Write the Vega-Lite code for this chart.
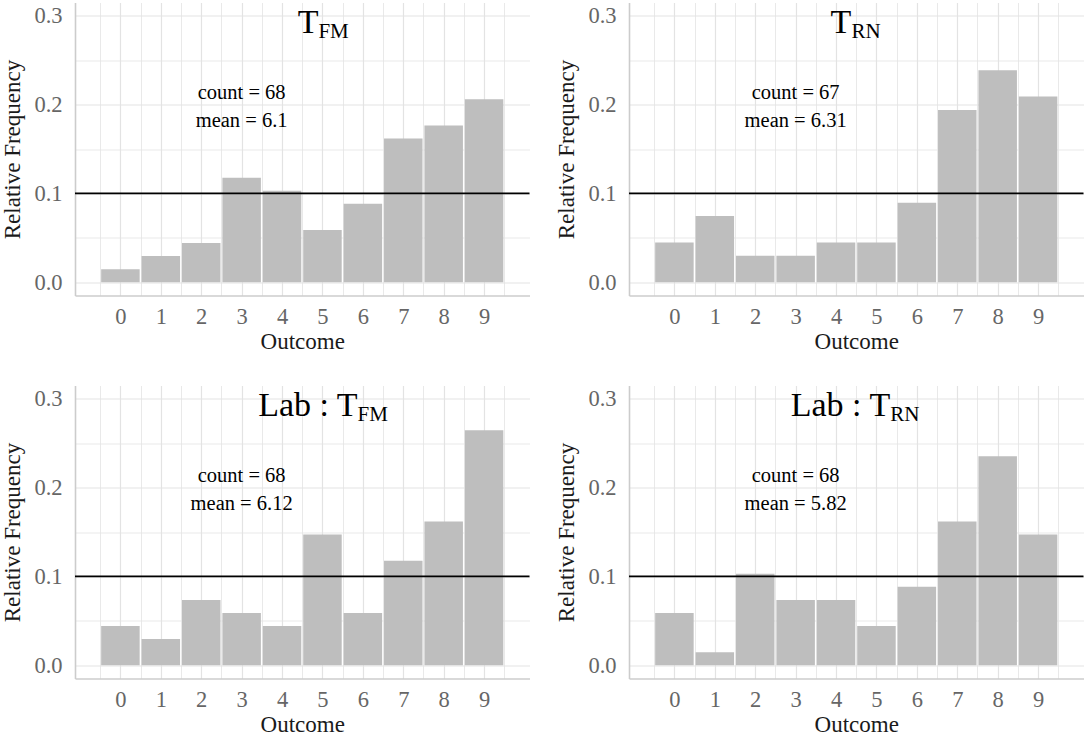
{
  "$schema": "https://vega.github.io/schema/vega-lite/v6.json",
  "background": "white",
  "padding": {"left": 1, "top": 2.5, "right": 2.5, "bottom": 0},
  "columns": 2,
  "spacing": {"row": 90, "column": 99},
  "bounds": "flush",
  "config": {
    "font": "Liberation Serif, Times New Roman, serif",
    "view": {"stroke": null},
    "text": {"font": "Liberation Serif, Times New Roman, serif"},
    "axis": {
      "labelFont": "Liberation Serif, Times New Roman, serif",
      "titleFont": "Liberation Serif, Times New Roman, serif",
      "labelFontSize": 22.5,
      "titleFontSize": 23,
      "labelColor": "#666666",
      "titleColor": "#1a1a1a",
      "titleFontWeight": "normal",
      "ticks": false,
      "tickSize": 0,
      "domainColor": "#cccccc",
      "domainWidth": 1.6,
      "gridColor": "#e3e3e3",
      "gridWidth": 1.2,
      "labelFlush": false,
      "labelOverlap": false
    },
    "axisX": {"labelPadding": 10, "titlePadding": 2, "labelAngle": 0},
    "axisY": {"labelPadding": 13, "titlePadding": 9}
  },
  "concat": [
    {
      "width": 454.5,
      "height": 293,
      "resolve": {"axis": {"x": "independent"}},
      "layer": [
        {
          "data": {"values": [{}]},
          "mark": {"type": "rule", "opacity": 0},
          "encoding": {"x": {"datum": 0, "type": "quantitative", "axis": {"orient": "bottom", "values": [-0.5, 0.5, 1.5, 2.5, 3.5, 4.5, 5.5, 6.5, 7.5, 8.5, 9.5], "labels": false, "domain": false, "title": null, "grid": true, "gridWidth": 0.8}}}
        },
        {
          "data": {"values": [
            {"outcome": 0, "rel": 0.0147},
            {"outcome": 1, "rel": 0.0294},
            {"outcome": 2, "rel": 0.0441},
            {"outcome": 3, "rel": 0.1176},
            {"outcome": 4, "rel": 0.1029},
            {"outcome": 5, "rel": 0.0588},
            {"outcome": 6, "rel": 0.0882},
            {"outcome": 7, "rel": 0.1618},
            {"outcome": 8, "rel": 0.1765},
            {"outcome": 9, "rel": 0.2059}
          ]},
          "mark": {"type": "bar", "width": 38.5, "color": "#bebebe"},
          "encoding": {
            "x": {
              "field": "outcome", "type": "quantitative", "title": "Outcome",
              "scale": {"domain": [-1, 10], "nice": false, "zero": false},
              "axis": {"orient": "bottom", "values": [0, 1, 2, 3, 4, 5, 6, 7, 8, 9], "format": "d", "grid": true}
            },
            "y": {
              "field": "rel", "type": "quantitative", "title": "Relative Frequency",
              "scale": {"domain": [-0.015, 0.315], "nice": false, "zero": false},
              "axis": {
                "values": [0, 0.05, 0.1, 0.15, 0.2, 0.25, 0.3],
                "format": ".1f",
                "labelExpr": "abs(datum.value * 10 - round(datum.value * 10)) < 0.001 ? datum.label : ''",
                "gridWidth": {"condition": {"test": "abs(datum.value * 10 - round(datum.value * 10)) > 0.001", "value": 0.8}, "value": 1.2}
              }
            }
          }
        },
        {
          "data": {"values": [{}]},
          "mark": {"type": "rule", "color": "black", "strokeWidth": 1.8},
          "encoding": {"y": {"datum": 0.1}}
        },
        {
          "data": {"values": [{"label": "count = 68 \n mean = 6.1"}]},
          "mark": {"type": "text", "fontSize": 20.5, "lineBreak": "\n", "lineHeight": 28, "align": "center", "baseline": "middle", "color": "black"},
          "encoding": {"x": {"datum": 3, "axis": null}, "y": {"datum": 0.2135}, "text": {"field": "label"}}
        },
        {
          "data": {"values": [{"main": "T", "sub": "FM"}]},
          "mark": {"type": "text", "fontSize": 34, "align": "right", "baseline": "alphabetic", "color": "black"},
          "encoding": {"x": {"datum": 4.9, "axis": null}, "y": {"datum": 0.281}, "text": {"field": "main"}}
        },
        {
          "data": {"values": [{"main": "T", "sub": "FM"}]},
          "mark": {"type": "text", "fontSize": 21, "align": "left", "baseline": "alphabetic", "dy": 5, "color": "black"},
          "encoding": {"x": {"datum": 4.9, "axis": null}, "y": {"datum": 0.281}, "text": {"field": "sub"}}
        }
      ]
    },
    {
      "width": 454.5,
      "height": 293,
      "resolve": {"axis": {"x": "independent"}},
      "layer": [
        {
          "data": {"values": [{}]},
          "mark": {"type": "rule", "opacity": 0},
          "encoding": {"x": {"datum": 0, "type": "quantitative", "axis": {"orient": "bottom", "values": [-0.5, 0.5, 1.5, 2.5, 3.5, 4.5, 5.5, 6.5, 7.5, 8.5, 9.5], "labels": false, "domain": false, "title": null, "grid": true, "gridWidth": 0.8}}}
        },
        {
          "data": {"values": [
            {"outcome": 0, "rel": 0.0448},
            {"outcome": 1, "rel": 0.0746},
            {"outcome": 2, "rel": 0.0299},
            {"outcome": 3, "rel": 0.0299},
            {"outcome": 4, "rel": 0.0448},
            {"outcome": 5, "rel": 0.0448},
            {"outcome": 6, "rel": 0.0896},
            {"outcome": 7, "rel": 0.1940},
            {"outcome": 8, "rel": 0.2388},
            {"outcome": 9, "rel": 0.2090}
          ]},
          "mark": {"type": "bar", "width": 38.5, "color": "#bebebe"},
          "encoding": {
            "x": {
              "field": "outcome", "type": "quantitative", "title": "Outcome",
              "scale": {"domain": [-1, 10], "nice": false, "zero": false},
              "axis": {"orient": "bottom", "values": [0, 1, 2, 3, 4, 5, 6, 7, 8, 9], "format": "d", "grid": true}
            },
            "y": {
              "field": "rel", "type": "quantitative", "title": "Relative Frequency",
              "scale": {"domain": [-0.015, 0.315], "nice": false, "zero": false},
              "axis": {
                "values": [0, 0.05, 0.1, 0.15, 0.2, 0.25, 0.3],
                "format": ".1f",
                "labelExpr": "abs(datum.value * 10 - round(datum.value * 10)) < 0.001 ? datum.label : ''",
                "gridWidth": {"condition": {"test": "abs(datum.value * 10 - round(datum.value * 10)) > 0.001", "value": 0.8}, "value": 1.2}
              }
            }
          }
        },
        {
          "data": {"values": [{}]},
          "mark": {"type": "rule", "color": "black", "strokeWidth": 1.8},
          "encoding": {"y": {"datum": 0.1}}
        },
        {
          "data": {"values": [{"label": "count = 67 \n mean = 6.31"}]},
          "mark": {"type": "text", "fontSize": 20.5, "lineBreak": "\n", "lineHeight": 28, "align": "center", "baseline": "middle", "color": "black"},
          "encoding": {"x": {"datum": 3, "axis": null}, "y": {"datum": 0.2135}, "text": {"field": "label"}}
        },
        {
          "data": {"values": [{"main": "T", "sub": "RN"}]},
          "mark": {"type": "text", "fontSize": 34, "align": "right", "baseline": "alphabetic", "color": "black"},
          "encoding": {"x": {"datum": 4.38, "axis": null}, "y": {"datum": 0.281}, "text": {"field": "main"}}
        },
        {
          "data": {"values": [{"main": "T", "sub": "RN"}]},
          "mark": {"type": "text", "fontSize": 21, "align": "left", "baseline": "alphabetic", "dy": 5, "color": "black"},
          "encoding": {"x": {"datum": 4.38, "axis": null}, "y": {"datum": 0.281}, "text": {"field": "sub"}}
        }
      ]
    },
    {
      "width": 454.5,
      "height": 293,
      "resolve": {"axis": {"x": "independent"}},
      "layer": [
        {
          "data": {"values": [{}]},
          "mark": {"type": "rule", "opacity": 0},
          "encoding": {"x": {"datum": 0, "type": "quantitative", "axis": {"orient": "bottom", "values": [-0.5, 0.5, 1.5, 2.5, 3.5, 4.5, 5.5, 6.5, 7.5, 8.5, 9.5], "labels": false, "domain": false, "title": null, "grid": true, "gridWidth": 0.8}}}
        },
        {
          "data": {"values": [
            {"outcome": 0, "rel": 0.0441},
            {"outcome": 1, "rel": 0.0294},
            {"outcome": 2, "rel": 0.0735},
            {"outcome": 3, "rel": 0.0588},
            {"outcome": 4, "rel": 0.0441},
            {"outcome": 5, "rel": 0.1471},
            {"outcome": 6, "rel": 0.0588},
            {"outcome": 7, "rel": 0.1176},
            {"outcome": 8, "rel": 0.1618},
            {"outcome": 9, "rel": 0.2647}
          ]},
          "mark": {"type": "bar", "width": 38.5, "color": "#bebebe"},
          "encoding": {
            "x": {
              "field": "outcome", "type": "quantitative", "title": "Outcome",
              "scale": {"domain": [-1, 10], "nice": false, "zero": false},
              "axis": {"orient": "bottom", "values": [0, 1, 2, 3, 4, 5, 6, 7, 8, 9], "format": "d", "grid": true}
            },
            "y": {
              "field": "rel", "type": "quantitative", "title": "Relative Frequency",
              "scale": {"domain": [-0.015, 0.315], "nice": false, "zero": false},
              "axis": {
                "values": [0, 0.05, 0.1, 0.15, 0.2, 0.25, 0.3],
                "format": ".1f",
                "labelExpr": "abs(datum.value * 10 - round(datum.value * 10)) < 0.001 ? datum.label : ''",
                "gridWidth": {"condition": {"test": "abs(datum.value * 10 - round(datum.value * 10)) > 0.001", "value": 0.8}, "value": 1.2}
              }
            }
          }
        },
        {
          "data": {"values": [{}]},
          "mark": {"type": "rule", "color": "black", "strokeWidth": 1.8},
          "encoding": {"y": {"datum": 0.1}}
        },
        {
          "data": {"values": [{"label": "count = 68 \n mean = 6.12"}]},
          "mark": {"type": "text", "fontSize": 20.5, "lineBreak": "\n", "lineHeight": 28, "align": "center", "baseline": "middle", "color": "black"},
          "encoding": {"x": {"datum": 3, "axis": null}, "y": {"datum": 0.2135}, "text": {"field": "label"}}
        },
        {
          "data": {"values": [{"main": "Lab : T", "sub": "FM"}]},
          "mark": {"type": "text", "fontSize": 34, "align": "right", "baseline": "alphabetic", "color": "black"},
          "encoding": {"x": {"datum": 5.87, "axis": null}, "y": {"datum": 0.281}, "text": {"field": "main"}}
        },
        {
          "data": {"values": [{"main": "Lab : T", "sub": "FM"}]},
          "mark": {"type": "text", "fontSize": 21, "align": "left", "baseline": "alphabetic", "dy": 5, "color": "black"},
          "encoding": {"x": {"datum": 5.87, "axis": null}, "y": {"datum": 0.281}, "text": {"field": "sub"}}
        }
      ]
    },
    {
      "width": 454.5,
      "height": 293,
      "resolve": {"axis": {"x": "independent"}},
      "layer": [
        {
          "data": {"values": [{}]},
          "mark": {"type": "rule", "opacity": 0},
          "encoding": {"x": {"datum": 0, "type": "quantitative", "axis": {"orient": "bottom", "values": [-0.5, 0.5, 1.5, 2.5, 3.5, 4.5, 5.5, 6.5, 7.5, 8.5, 9.5], "labels": false, "domain": false, "title": null, "grid": true, "gridWidth": 0.8}}}
        },
        {
          "data": {"values": [
            {"outcome": 0, "rel": 0.0588},
            {"outcome": 1, "rel": 0.0147},
            {"outcome": 2, "rel": 0.1029},
            {"outcome": 3, "rel": 0.0735},
            {"outcome": 4, "rel": 0.0735},
            {"outcome": 5, "rel": 0.0441},
            {"outcome": 6, "rel": 0.0882},
            {"outcome": 7, "rel": 0.1618},
            {"outcome": 8, "rel": 0.2353},
            {"outcome": 9, "rel": 0.1471}
          ]},
          "mark": {"type": "bar", "width": 38.5, "color": "#bebebe"},
          "encoding": {
            "x": {
              "field": "outcome", "type": "quantitative", "title": "Outcome",
              "scale": {"domain": [-1, 10], "nice": false, "zero": false},
              "axis": {"orient": "bottom", "values": [0, 1, 2, 3, 4, 5, 6, 7, 8, 9], "format": "d", "grid": true}
            },
            "y": {
              "field": "rel", "type": "quantitative", "title": "Relative Frequency",
              "scale": {"domain": [-0.015, 0.315], "nice": false, "zero": false},
              "axis": {
                "values": [0, 0.05, 0.1, 0.15, 0.2, 0.25, 0.3],
                "format": ".1f",
                "labelExpr": "abs(datum.value * 10 - round(datum.value * 10)) < 0.001 ? datum.label : ''",
                "gridWidth": {"condition": {"test": "abs(datum.value * 10 - round(datum.value * 10)) > 0.001", "value": 0.8}, "value": 1.2}
              }
            }
          }
        },
        {
          "data": {"values": [{}]},
          "mark": {"type": "rule", "color": "black", "strokeWidth": 1.8},
          "encoding": {"y": {"datum": 0.1}}
        },
        {
          "data": {"values": [{"label": "count = 68 \n mean = 5.82"}]},
          "mark": {"type": "text", "fontSize": 20.5, "lineBreak": "\n", "lineHeight": 28, "align": "center", "baseline": "middle", "color": "black"},
          "encoding": {"x": {"datum": 3, "axis": null}, "y": {"datum": 0.2135}, "text": {"field": "label"}}
        },
        {
          "data": {"values": [{"main": "Lab : T", "sub": "RN"}]},
          "mark": {"type": "text", "fontSize": 34, "align": "right", "baseline": "alphabetic", "color": "black"},
          "encoding": {"x": {"datum": 5.34, "axis": null}, "y": {"datum": 0.281}, "text": {"field": "main"}}
        },
        {
          "data": {"values": [{"main": "Lab : T", "sub": "RN"}]},
          "mark": {"type": "text", "fontSize": 21, "align": "left", "baseline": "alphabetic", "dy": 5, "color": "black"},
          "encoding": {"x": {"datum": 5.34, "axis": null}, "y": {"datum": 0.281}, "text": {"field": "sub"}}
        }
      ]
    }
  ]
}
